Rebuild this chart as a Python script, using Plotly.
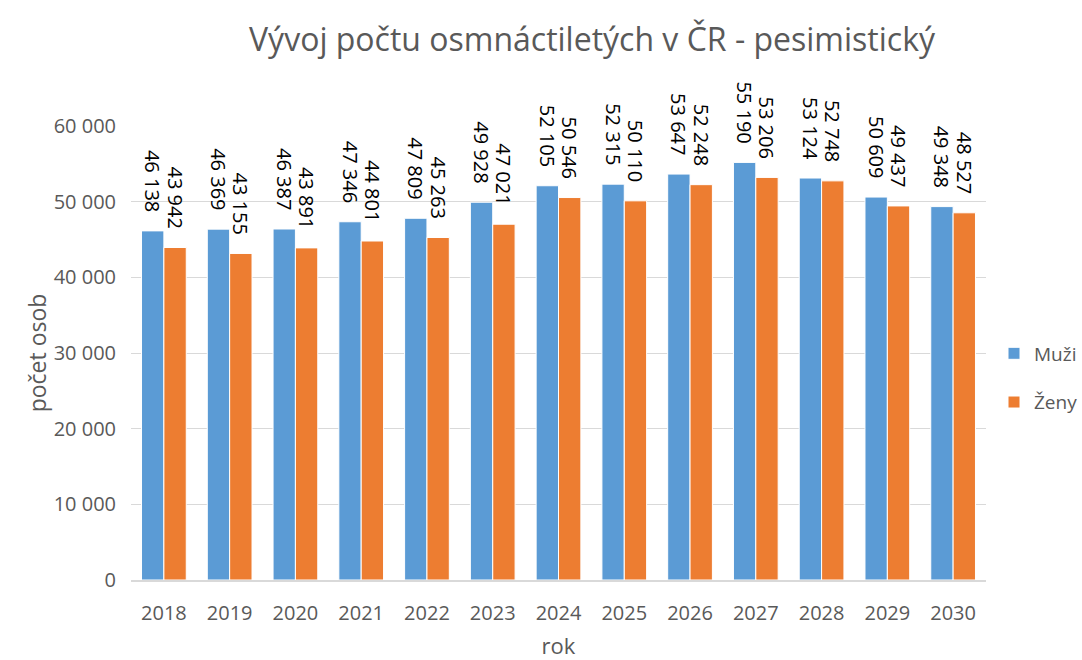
import plotly.graph_objects as go

years = ["2018", "2019", "2020", "2021", "2022", "2023", "2024",
         "2025", "2026", "2027", "2028", "2029", "2030"]
muzi = [46138, 46369, 46387, 47346, 47809, 49928, 52105,
        52315, 53647, 55190, 53124, 50609, 49348]
zeny = [43942, 43155, 43891, 44801, 45263, 47021, 50546,
        50110, 52248, 53206, 52748, 49437, 48527]
series_names = ["Muži", "Ženy"]
colors = ["#5B9BD5", "#ED7D31"]

FONT = "Open Sans"
GREY = "#595959"

def fmt(v):
    return f"{v:,}".replace(",", " ") + "\u00a0\u00a0\u00a0"

fig = go.Figure()
for name, vals, col in zip(series_names, [muzi, zeny], colors):
    fig.add_trace(go.Bar(
        x=years, y=vals, name=name, legendgroup=name,
        marker=dict(color=col, line=dict(color="white", width=1)),
        text=[fmt(v) for v in vals],
        textposition="outside", textangle=90,
        textfont=dict(family=FONT, size=20, color="black"),
        cliponaxis=False, constraintext="none",
    ))

fig.update_layout(
    width=1082, height=660,
    paper_bgcolor="white", plot_bgcolor="white",
    margin=dict(l=131, r=96, t=126, b=80, autoexpand=False),
    barmode="group", bargap=0.32, bargroupgap=0,
    separators=", ",
    title=dict(text="Vývoj počtu osmnáctiletých v ČR - pesimistický",
               x=592 / 1082, xanchor="center", y=1 - 40 / 660, yanchor="middle",
               font=dict(family=FONT, size=32, color=GREY)),
    font=dict(family=FONT, color=GREY),
    legend=dict(xref="container", x=994 / 1082, xanchor="left",
                y=0.445, yanchor="middle",
                font=dict(family=FONT, size=19, color=GREY),
                tracegroupgap=21, traceorder="grouped", itemwidth=30),
    showlegend=True,
)
fig.update_yaxes(range=[0, 60000], dtick=10000, tickformat=",d",
                 automargin=False,
                 showgrid=True, gridcolor="#D9D9D9", gridwidth=1,
                 zeroline=False, showline=False, ticks="",
                 ticklabelstandoff=14,
                 tickfont=dict(family=FONT, size=20, color=GREY),
                 title=dict(text="počet osob", standoff=0,
                            font=dict(family=FONT, size=23, color=GREY)))
fig.update_xaxes(showline=True, linecolor="#D9D9D9", linewidth=1.5, ticks="",
                 automargin=True,
                 ticklabelstandoff=14,
                 tickfont=dict(family=FONT, size=20, color=GREY),
                 title=dict(text="rok", standoff=19,
                            font=dict(family=FONT, size=22, color=GREY)))

fig.write_html("out.html", config={"displayModeBar": False},
               post_script="document.body.style.margin='0';")
